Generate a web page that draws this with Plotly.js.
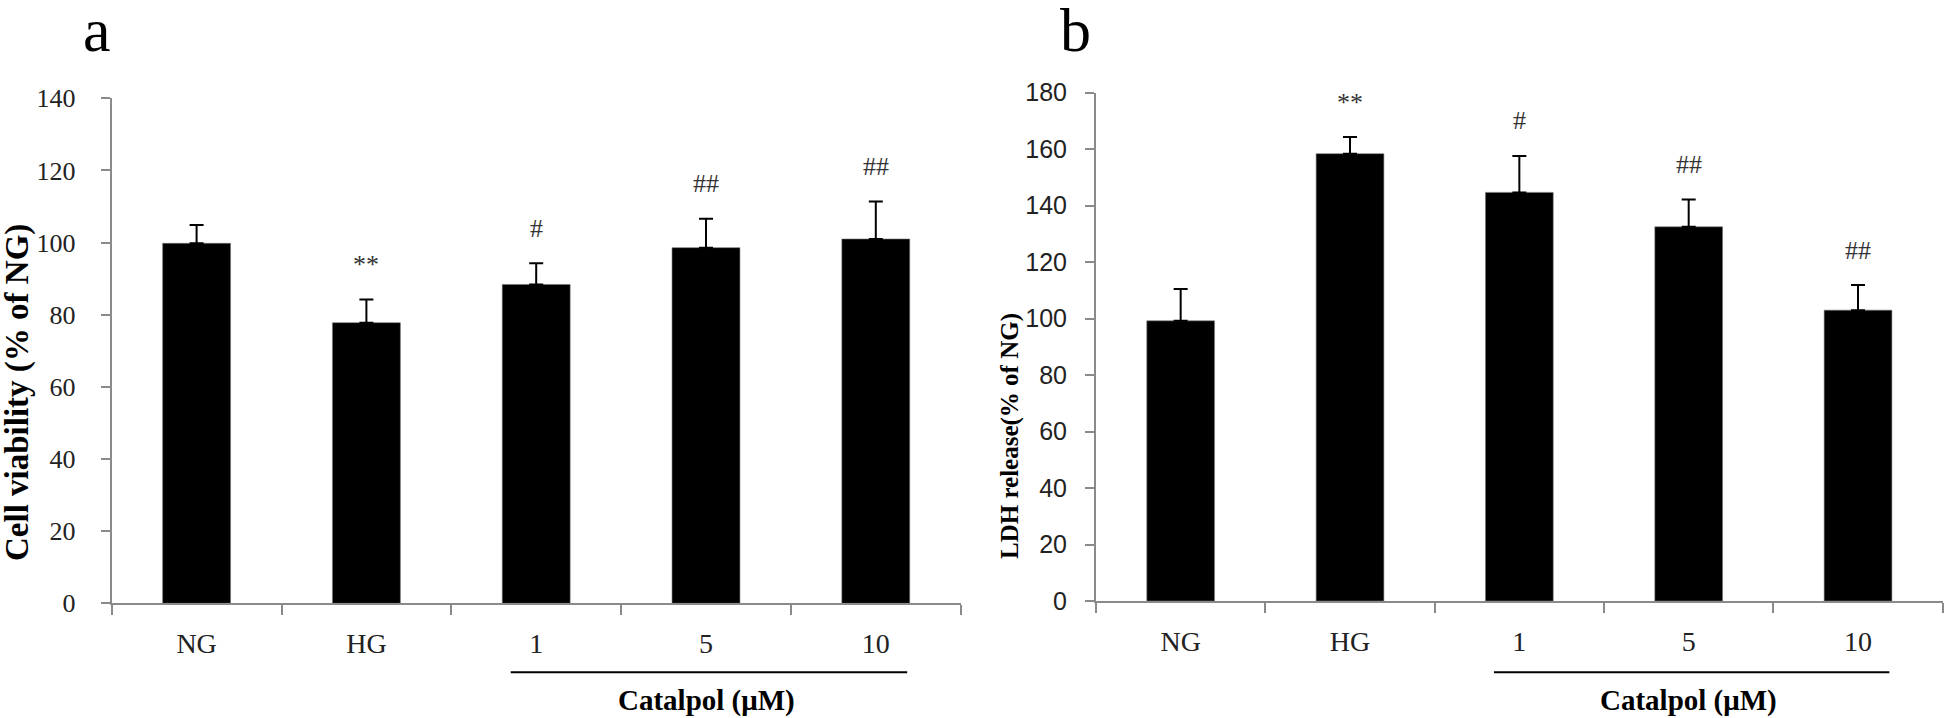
<!DOCTYPE html>
<html>
<head>
<meta charset="utf-8">
<script src="https://cdn.plot.ly/plotly-3.0.1.min.js"></script>
<style>
  html, body { margin: 0; padding: 0; background: #fff; }
  #chart { width: 1946px; height: 718px; }
</style>
</head>
<body>
<div id="chart"></div>
<script>
// ---- data ----
const categories = ['NG', 'HG', '1', '5', '10'];

const viability = [99.8, 77.8, 88.4, 98.6, 101.0];
const viabilityErr = [5.1, 6.4, 5.9, 8.0, 10.4];
const viabilitySig = ['', '**', '#', '##', '##'];

const ldh = [99.2, 158.4, 144.7, 132.5, 103.0];
const ldhErr = [11.3, 5.9, 12.9, 9.7, 8.9];
const ldhSig = ['', '**', '#', '##', '##'];

const panelLetters = ['a', 'b'];
const yTitles = ['Cell viability (% of NG)', 'LDH release(% of NG)'];
const groupLabel = 'Catalpol (\u03bcM)';

// ---- styles ----
const axisGray = '#8a8a8a';
const serif = 'Liberation Serif, Times New Roman, serif';
const sans = 'Liberation Sans, Arial, sans-serif';
const W = 1946, H = 718;

function barTrace(vals, errs, xa, ya) {
  return {
    type: 'bar',
    x: categories,
    y: vals,
    xaxis: xa, yaxis: ya,
    marker: { color: '#000', line: { color: '#777', width: 0.6 } },
    error_y: {
      type: 'data', symmetric: false,
      array: errs,
      arrayminus: errs.map(() => 0),
      color: '#000', thickness: 2, width: 7
    },
    hoverinfo: 'skip',
    showlegend: false
  };
}

const data = [
  barTrace(viability, viabilityErr, 'x', 'y'),
  barTrace(ldh, ldhErr, 'x2', 'y2')
];

function xAxis(domain, anchor) {
  return {
    domain: domain, anchor: anchor,
    type: 'category',
    categoryorder: 'array', categoryarray: categories,
    range: [-0.5, categories.length - 0.5],
    showline: true, linecolor: axisGray, linewidth: 2,
    ticks: 'outside', tickson: 'boundaries', ticklen: 10, tickwidth: 2, tickcolor: axisGray,
    tickfont: { family: serif, size: 28, color: '#222' },
    ticklabelstandoff: 14,
    showgrid: false, zeroline: false, fixedrange: true
  };
}
function yAxis(domain, anchor, range, font, standoff) {
  return {
    domain: domain, anchor: anchor,
    range: range, dtick: 20, tick0: 0,
    showline: true, linecolor: axisGray, linewidth: 2,
    ticks: 'outside', ticklen: 9, tickwidth: 2, tickcolor: axisGray,
    tickfont: font,
    ticklabelstandoff: standoff,
    showgrid: false, zeroline: false, fixedrange: true
  };
}

const annotations = [];
function addSig(vals, errs, sigs, xref, yref) {
  sigs.forEach((s, i) => {
    if (!s) return;
    annotations.push({
      x: i, y: vals[i] + errs[i], xref: xref, yref: yref,
      text: s, showarrow: false, yanchor: 'middle', yshift: 35,
      font: { family: serif, size: 26, color: '#333' }
    });
  });
}
addSig(viability, viabilityErr, viabilitySig, 'x', 'y');
addSig(ldh, ldhErr, ldhSig, 'x2', 'y2');

// panel letters
annotations.push({ x: 96.7 / W, y: 1 - 30 / H, xref: 'paper', yref: 'paper', text: panelLetters[0],
  showarrow: false, xanchor: 'center', yanchor: 'middle', font: { family: serif, size: 62, color: '#000' } });
annotations.push({ x: 1075 / W, y: 1 - 30 / H, xref: 'paper', yref: 'paper', text: panelLetters[1],
  showarrow: false, xanchor: 'center', yanchor: 'middle', font: { family: serif, size: 62, color: '#000' } });

// y titles
annotations.push({ x: 18 / W, y: 1 - 393 / H, xref: 'paper', yref: 'paper', text: '<b>' + yTitles[0] + '</b>',
  textangle: -90, showarrow: false, xanchor: 'center', yanchor: 'middle',
  font: { family: serif, size: 33, color: '#000' } });
annotations.push({ x: 1010 / W, y: 1 - 436 / H, xref: 'paper', yref: 'paper', text: '<b>' + yTitles[1] + '</b>',
  textangle: -90, showarrow: false, xanchor: 'center', yanchor: 'middle',
  font: { family: serif, size: 25, color: '#000' } });

// group labels
['x', 'x2'].forEach(xr => {
  annotations.push({ x: 3, y: 1 - 700 / H, xref: xr, yref: 'paper', text: '<b>' + groupLabel + '</b>',
    showarrow: false, xanchor: 'center', yanchor: 'middle',
    font: { family: serif, size: 29, color: '#000' } });
});

const shapes = ['x', 'x2'].map(xr => ({
  type: 'line', xref: xr, yref: 'paper',
  x0: 1.85, x1: 4.185, y0: 1 - 672.3 / H, y1: 1 - 672.3 / H,
  line: { color: '#000', width: 2 }
}));

const layout = {
  width: W, height: H,
  margin: { l: 0, r: 0, t: 0, b: 0, pad: 0 },
  paper_bgcolor: '#fff', plot_bgcolor: '#fff',
  bargap: 0.6,
  showlegend: false,
  xaxis: xAxis([111.7 / W, 960.7 / W], 'y'),
  yaxis: yAxis([1 - 603.3 / H, 1 - 98.3 / H], 'x', [0, 140], { family: serif, size: 26, color: '#222' }, 20),
  xaxis2: xAxis([1096 / W, 1942.7 / W], 'y2'),
  yaxis2: yAxis([1 - 601 / H, 1 - 92.7 / H], 'x2', [0, 180], { family: sans, size: 25, color: '#222' }, 13),
  annotations: annotations,
  shapes: shapes
};

Plotly.newPlot('chart', data, layout, { displayModeBar: false, staticPlot: true });
</script>
</body>
</html>
